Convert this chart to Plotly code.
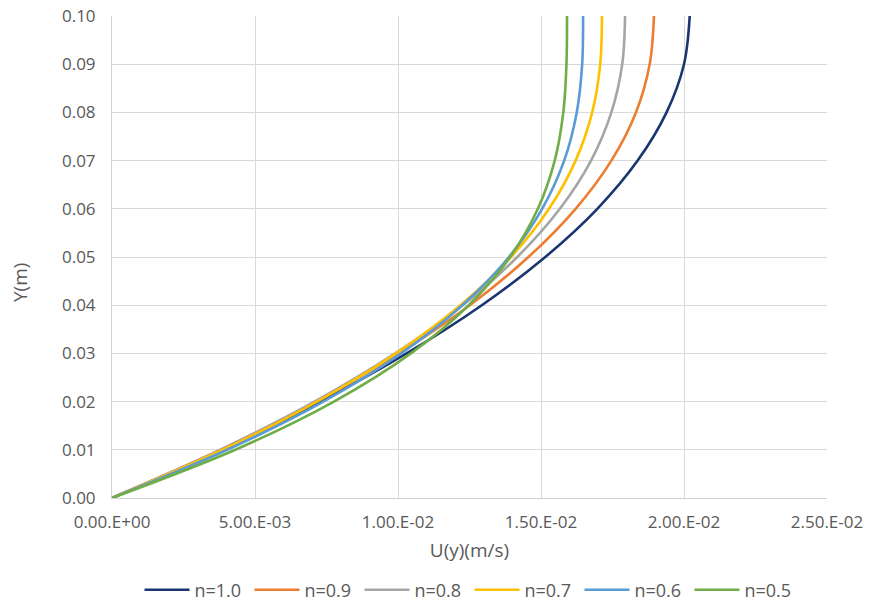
import plotly.graph_objects as go

# Data
y_m = [0.00, 0.01, 0.02, 0.03, 0.04, 0.05, 0.06, 0.07, 0.08, 0.09, 0.10]
u_n10 = [0, 0.00384, 0.00727, 0.01030, 0.01293, 0.01515, 0.01697, 0.01838, 0.01939, 0.02000, 0.02020]
u_n09 = [0, 0.00378, 0.00712, 0.01003, 0.01251, 0.01456, 0.01621, 0.01746, 0.01832, 0.01880, 0.01895]
u_n08 = [0, 0.00379, 0.00708, 0.00990, 0.01226, 0.01417, 0.01566, 0.01675, 0.01746, 0.01784, 0.01794]
u_n07 = [0, 0.00387, 0.00717, 0.00993, 0.01218, 0.01395, 0.01528, 0.01621, 0.01679, 0.01707, 0.01713]
u_n06 = [0, 0.00403, 0.00739, 0.01011, 0.01225, 0.01388, 0.01504, 0.01581, 0.01625, 0.01644, 0.01647]
u_n05 = [0, 0.00431, 0.00776, 0.01045, 0.01247, 0.01392, 0.01489, 0.01548, 0.01578, 0.01589, 0.01591]

series_names = ["n=1.0", "n=0.9", "n=0.8", "n=0.7", "n=0.6", "n=0.5"]
series_vals = [u_n10, u_n09, u_n08, u_n07, u_n06, u_n05]
colors = ["#1b3570", "#ed7d31", "#a5a5a5", "#ffc000", "#5b9bd5", "#70ad47"]

x_tickvals = [0, 0.005, 0.010, 0.015, 0.020, 0.025]
x_ticktext = ["0.00.E+00", "5.00.E-03", "1.00.E-02", "1.50.E-02", "2.00.E-02", "2.50.E-02"]
y_tickvals = [0.00, 0.01, 0.02, 0.03, 0.04, 0.05, 0.06, 0.07, 0.08, 0.09, 0.10]

FONT = "Open Sans"
TXT = "#595959"

fig = go.Figure()
for name, vals, col in zip(series_names, series_vals, colors):
    fig.add_trace(go.Scatter(
        x=vals, y=y_m, mode="lines", name=name,
        line=dict(color=col, width=2.6, shape="spline", smoothing=1.0),
    ))

fig.update_layout(
    width=871, height=608,
    margin=dict(l=112, r=44, t=16, b=110, autoexpand=False),
    paper_bgcolor="white", plot_bgcolor="white",
    font=dict(family=FONT, color=TXT, size=17),
    showlegend=True,
    legend=dict(
        orientation="h", x=0.5, xanchor="center", y=-0.191, yanchor="middle",
        font=dict(family=FONT, size=18, color=TXT),
        itemwidth=45, entrywidth=50, tracegroupgap=0,
    ),
    xaxis=dict(
        range=[0, 0.025], tickvals=x_tickvals, ticktext=x_ticktext,
        showgrid=True, gridcolor="#d9d9d9", gridwidth=1,
        showline=True, linecolor="#d0d0d0", linewidth=1,
        zeroline=False, ticks="", ticklabelstandoff=9, automargin=False,
        tickfont=dict(family=FONT, size=17, color=TXT),
        title=dict(text="U(y)(m/s)", font=dict(family=FONT, size=19, color=TXT), standoff=11),
    ),
    yaxis=dict(
        range=[0, 0.10], tickvals=y_tickvals, tickformat=".2f",
        showgrid=True, gridcolor="#d9d9d9", gridwidth=1,
        showline=True, linecolor="#d0d0d0", linewidth=1,
        zeroline=False, ticks="", ticklabelstandoff=12, automargin=False,
        tickfont=dict(family=FONT, size=17, color=TXT),
    ),
    annotations=[dict(
        text="Y(m)", textangle=-90, xref="paper", yref="paper",
        x=(20 - 112) / 715, y=(498 - 283) / 482, xanchor="center", yanchor="middle",
        showarrow=False, font=dict(family=FONT, size=19, color=TXT),
    )],
)

fig.write_html("out.html")
